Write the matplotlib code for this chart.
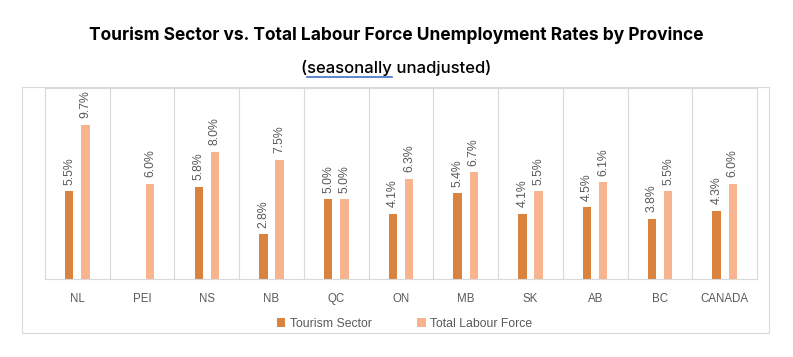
import numpy as np
import matplotlib
matplotlib.use("Agg")
from matplotlib import pyplot as plt

provinces = ["NL", "PEI", "NS", "NB", "QC", "ON", "MB", "SK", "AB", "BC", "CANADA"]
tourism = [5.5, np.nan, 5.8, 2.8, 5.0, 4.1, 5.4, 4.1, 4.5, 3.8, 4.3]
labour = [9.7, 6.0, 8.0, 7.5, 5.0, 6.3, 6.7, 5.5, 6.1, 5.5, 6.0]

c_tour = "#D9833E"
c_lab = "#F7B48E"
grey = "#595959"
edge = "#D9D9D9"
lab_font = "Liberation Sans"

fig = plt.figure(figsize=(7.93, 3.57), dpi=100)
# outer chart box
fig.patches.append(plt.Rectangle((22 / 793, 1 - 333 / 357), 747 / 793, 246 / 357,
                                 transform=fig.transFigure, fill=False,
                                 edgecolor=edge, lw=0.8))
ax = fig.add_axes([45 / 793, 1 - 279 / 357, 712 / 793, 191 / 357])

x = np.arange(len(provinces))
w = 0.13
ax.bar(x - 0.125, tourism, w, color=c_tour, label="Tourism Sector")
ax.bar(x + 0.125, labour, w, color=c_lab, label="Total Labour Force")

for xi, t, l in zip(x, tourism, labour):
    if not np.isnan(t):
        ax.text(xi - 0.125, t + 0.4, f"{t:.1f}%", rotation=90, ha="center",
                va="bottom", fontsize=8.8, color=grey, family=lab_font)
    ax.text(xi + 0.125, l + 0.4, f"{l:.1f}%", rotation=90, ha="center",
            va="bottom", fontsize=8.8, color=grey, family=lab_font)

ax.set_xlim(-0.5, len(provinces) - 0.5)
ax.set_ylim(0, 12)
ax.set_yticks([])
ax.set_xticks(x)
ax.set_xticklabels(provinces, fontsize=8.3, color=grey, family=lab_font)
ax.tick_params(axis="x", length=0, pad=10)
for b in np.arange(0.5, len(provinces) - 0.5):
    ax.axvline(b, color=edge, lw=0.8, zorder=0)
for s in ax.spines.values():
    s.set_color(edge)
    s.set_linewidth(0.8)

leg = ax.legend(loc="upper center", bbox_to_anchor=(0.505, -0.145), ncol=2,
                frameon=False, handlelength=0.7, handleheight=0.7,
                columnspacing=3.7, handletextpad=0.4,
                prop={"family": lab_font, "size": 8.8})
for t in leg.get_texts():
    t.set_color(grey)

fig.text(0.5, 1 - 35 / 357, "Tourism Sector vs. Total Labour Force Unemployment Rates by Province",
         ha="center", va="center", fontsize=12.5, fontweight="bold", family="Inter")
sub = fig.text(0.5, 1 - 68 / 357, "(seasonally unadjusted)", ha="center", va="center",
               fontsize=12, family="Inter", fontweight="medium")

# squiggle-style underline under "seasonally"
fig.canvas.draw()
r = fig.canvas.get_renderer()
bb = sub.get_window_extent(r)
pre = fig.text(0, 0, "(", fontsize=12, family="Inter", fontweight="medium")
word = fig.text(0, 0, "(seasonally", fontsize=12, family="Inter", fontweight="medium")
x0 = bb.x0 + pre.get_window_extent(r).width
x1 = bb.x0 + word.get_window_extent(r).width
pre.remove()
word.remove()
fig.add_artist(plt.Line2D([x0 / fig.bbox.width, x1 / fig.bbox.width],
                          [(bb.y0 - 1) / fig.bbox.height] * 2,
                          color="#4472C4", lw=1.2, transform=fig.transFigure))

fig.savefig("out.png", dpi=100)
